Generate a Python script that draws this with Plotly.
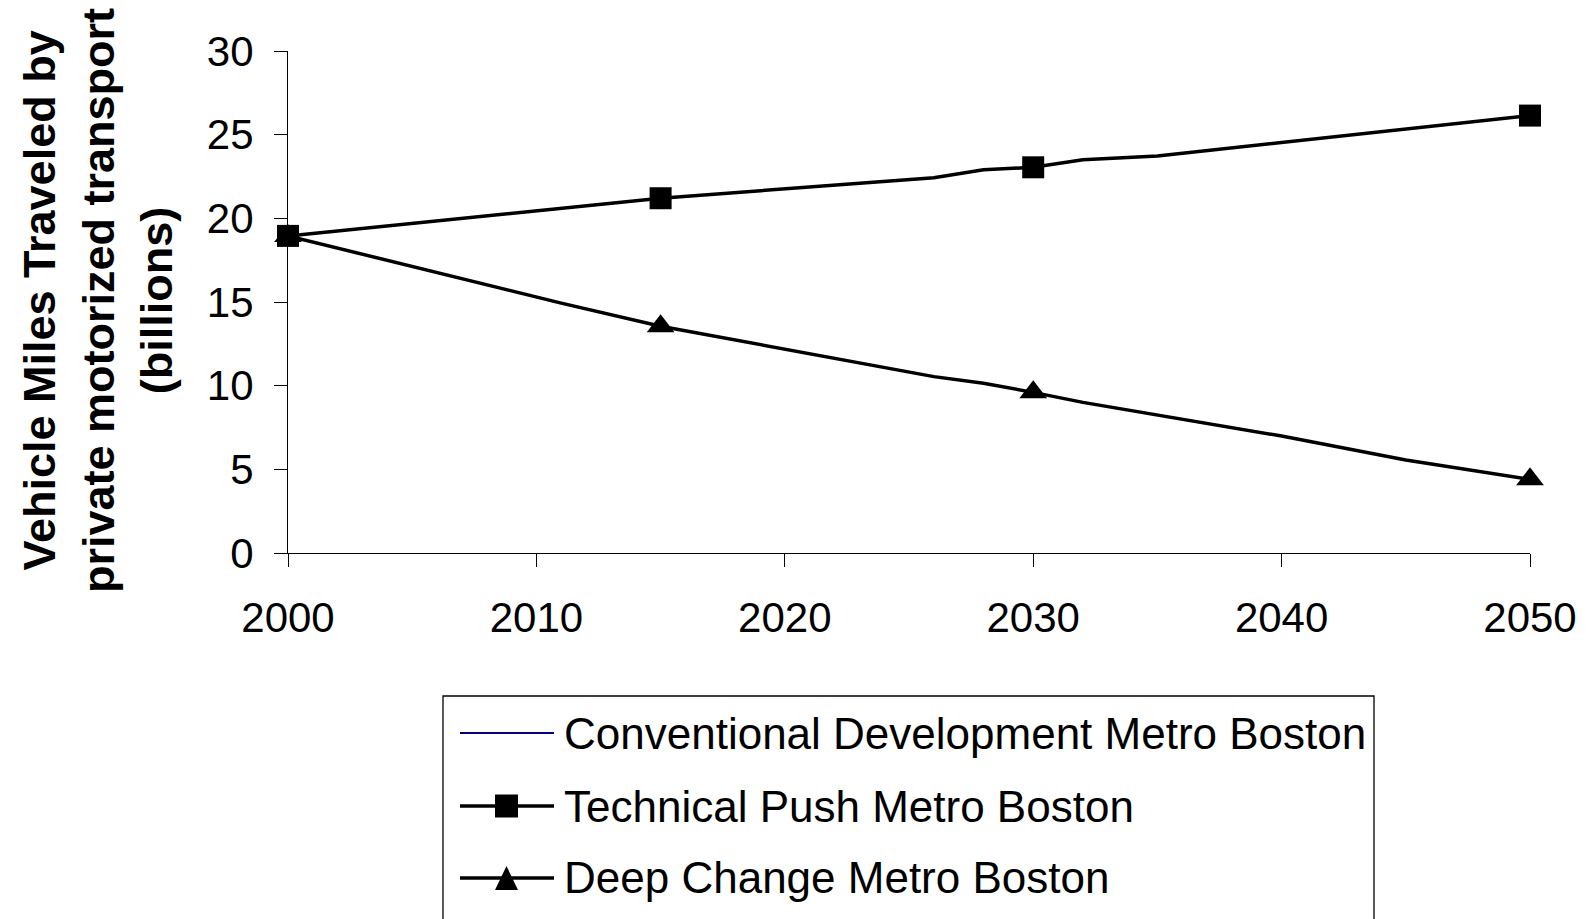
import plotly.graph_objects as go

# ---- data ----
years_tp = [2000, 2015, 2026, 2028, 2030, 2032, 2035, 2050]
technical_push = [18.95, 21.2, 22.43, 22.9, 23.05, 23.5, 23.73, 26.14]

years_dc = [2000, 2011, 2015, 2026, 2028, 2030, 2032, 2040, 2045, 2050]
deep_change = [18.95, 14.93, 13.55, 10.54, 10.14, 9.6, 9.0, 6.99, 5.56, 4.4]

years_cd = []
conventional = []

marker_years = [2000, 2015, 2030, 2050]
x_ticks = [2000, 2010, 2020, 2030, 2040, 2050]
series_names = ["Conventional Development Metro Boston",
                "Technical Push Metro Boston",
                "Deep Change Metro Boston"]

FONT = "Liberation Sans, Arial, sans-serif"
OFF = 8                      # page body margin
W, H = 1594 - OFF, 919 - OFF
# plot area in screen pixels
SL, SR, ST, SB = 288, 1530, 51, 553
L, R, T, B = SL - OFF, SR - OFF, ST - OFF, SB - OFF


def px2x(px):  # screen px -> paper x
    return (px - SL) / (SR - SL)


def py2y(py):  # screen px -> paper y
    return (SB - py) / (SB - ST)


def sizes(years, s):
    return [s if y in marker_years else 0 for y in years]


fig = go.Figure()
fig.add_trace(go.Scatter(x=years_cd, y=conventional, name=series_names[0],
                         mode="lines", line=dict(color="#000080", width=2)))
fig.add_trace(go.Scatter(x=years_tp, y=technical_push, name=series_names[1],
                         mode="lines+markers", cliponaxis=False,
                         line=dict(color="black", width=3.5),
                         marker=dict(symbol="square", color="black", opacity=1,
                                     size=sizes(years_tp, 22), line=dict(width=0))))
fig.add_trace(go.Scatter(x=years_dc, y=deep_change, name=series_names[2],
                         mode="lines+markers", cliponaxis=False,
                         line=dict(color="black", width=3.5),
                         marker=dict(symbol="triangle-up", color="black", opacity=1,
                                     size=sizes(years_dc, 24), line=dict(width=0))))

axis_common = dict(showline=True, linecolor="black", linewidth=1.2, ticks="outside",
                   ticklen=13, tickcolor="black", tickwidth=1.2, showgrid=False,
                   zeroline=False, tickfont=dict(family=FONT, size=42, color="black"))

fig.update_layout(
    width=W, height=H,
    margin=dict(l=L, r=W - R, t=T, b=H - B, pad=0),
    plot_bgcolor="white", paper_bgcolor="white",
    showlegend=False,
    font=dict(family=FONT, color="black"),
    xaxis=dict(range=[2000, 2050], tickvals=x_ticks, ticklabelstandoff=14, **axis_common),
    yaxis=dict(range=[0, 30], dtick=5, ticklabelstandoff=12, **axis_common),
)

# y-axis title
fig.add_annotation(
    text="<b>Vehicle Miles Traveled by<br>private motorized transport<br>(billions)</b>",
    xref="paper", yref="paper", x=px2x(98), y=py2y(300),
    xanchor="center", yanchor="middle", textangle=-90, showarrow=False,
    font=dict(family=FONT, size=45, color="black"),
)

# ---- legend (drawn as box, samples and text) ----
shapes = []
shapes.append(dict(type="rect", xref="paper", yref="paper",
                   x0=px2x(443), x1=px2x(1374), y0=py2y(696), y1=py2y(935),
                   line=dict(color="black", width=1.3), fillcolor="rgba(0,0,0,0)"))
rows_y = [733, 806, 878]
line_colors = ["#000080", "black", "black"]
line_widths = [2, 3.5, 3.5]
for ry, c, w in zip(rows_y, line_colors, line_widths):
    shapes.append(dict(type="line", xref="paper", yref="paper",
                       x0=px2x(460), x1=px2x(554), y0=py2y(ry), y1=py2y(ry),
                       line=dict(color=c, width=w)))
shapes.append(dict(type="rect", xref="paper", yref="paper",
                   x0=px2x(495), x1=px2x(518), y0=py2y(rows_y[1] - 11.5), y1=py2y(rows_y[1] + 11.5),
                   line=dict(width=0), fillcolor="black"))
ty = rows_y[2]
tri = "M {} {} L {} {} L {} {} Z".format(px2x(506.5), py2y(ty - 12),
                                        px2x(495), py2y(ty + 12),
                                        px2x(518), py2y(ty + 12))
shapes.append(dict(type="path", xref="paper", yref="paper", path=tri,
                   line=dict(width=0), fillcolor="black"))
fig.update_layout(shapes=shapes)

for ry, name in zip(rows_y, series_names):
    fig.add_annotation(text=name, xref="paper", yref="paper",
                       x=px2x(562), y=py2y(ry), xanchor="left", yanchor="middle",
                       showarrow=False, font=dict(family=FONT, size=44, color="black"))

fig.write_html("out.html")
